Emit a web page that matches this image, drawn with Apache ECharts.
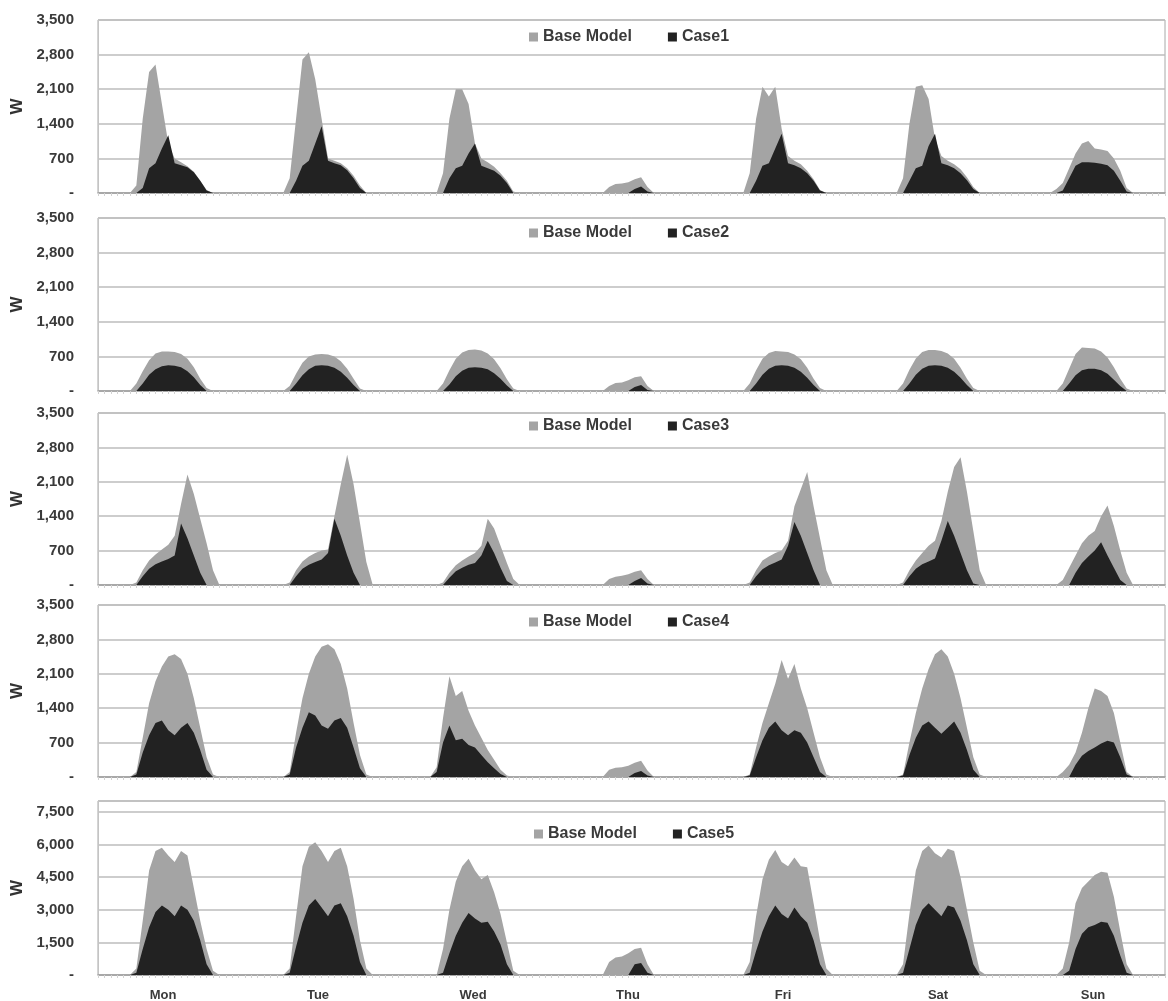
<!DOCTYPE html>
<html>
<head>
<meta charset="utf-8">
<script src="https://cdn.jsdelivr.net/npm/echarts@6/dist/echarts.min.js"></script>
<style>
html,body{margin:0;padding:0;background:#fff;}
#chart{width:1168px;height:1001px;}
</style>
</head>
<body>
<div id="chart"></div>
<script>
// ---------- DATA (hourly W, 24 values per day, Mon..Sun) ----------
const days = ['Mon', 'Tue', 'Wed', 'Thu', 'Fri', 'Sat', 'Sun'];
const seriesNames = ['Base Model', 'Case1', 'Case2', 'Case3', 'Case4', 'Case5'];

const base1 = [
  [0,0,0,0,0,0,150,1500,2450,2600,1800,1000,700,620,540,430,250,60,0,0,0,0,0,0],
  [0,0,0,0,0,0,300,1500,2700,2850,2300,1500,700,650,600,500,350,150,0,0,0,0,0,0],
  [0,0,0,0,0,0,400,1500,2100,2100,1800,1000,700,620,530,400,250,30,0,0,0,0,0,0],
  [0,0,0,0,0,0,0,0,120,180,190,220,280,320,120,0,0,0,0,0,0,0,0,0],
  [0,0,0,0,0,0,400,1500,2150,1950,2150,1300,750,650,580,450,280,60,0,0,0,0,0,0],
  [0,0,0,0,0,0,300,1400,2150,2180,1900,1100,750,650,580,480,320,120,0,0,0,0,0,0],
  [0,0,0,0,0,0,80,200,500,800,1000,1050,900,880,850,700,450,100,0,0,0,0,0,0]
];
const case1 = [
  [0,0,0,0,0,0,0,100,500,600,900,1170,600,560,520,420,250,50,0,0,0,0,0,0],
  [0,0,0,0,0,0,0,250,550,650,1000,1350,650,600,560,460,300,100,0,0,0,0,0,0],
  [0,0,0,0,0,0,0,300,500,550,800,1000,550,500,450,350,200,0,0,0,0,0,0,0],
  [0,0,0,0,0,0,0,0,0,0,0,0,80,130,30,0,0,0,0,0,0,0,0,0],
  [0,0,0,0,0,0,0,250,550,600,900,1200,600,560,500,400,250,50,0,0,0,0,0,0],
  [0,0,0,0,0,0,0,250,500,550,950,1200,600,560,500,400,260,80,0,0,0,0,0,0],
  [0,0,0,0,0,0,0,50,300,550,620,620,610,590,560,450,250,30,0,0,0,0,0,0]
];
const base2 = [
  [0,0,0,0,0,0,150,400,620,760,800,800,790,750,650,480,250,60,0,0,0,0,0,0],
  [0,0,0,0,0,0,100,350,570,700,740,750,740,700,600,450,250,50,0,0,0,0,0,0],
  [0,0,0,0,0,0,150,420,650,780,830,840,820,760,640,460,240,50,0,0,0,0,0,0],
  [0,0,0,0,0,0,0,0,100,160,170,220,280,300,100,0,0,0,0,0,0,0,0,0],
  [0,0,0,0,0,0,150,420,650,770,810,800,790,740,640,470,250,60,0,0,0,0,0,0],
  [0,0,0,0,0,0,150,430,660,790,830,830,810,760,650,470,250,60,0,0,0,0,0,0],
  [0,0,0,0,0,0,0,150,450,750,880,870,860,800,680,480,250,50,0,0,0,0,0,0]
];
const case2 = [
  [0,0,0,0,0,0,0,150,330,440,500,520,510,480,400,280,120,0,0,0,0,0,0,0],
  [0,0,0,0,0,0,0,150,320,440,510,520,510,470,390,270,120,0,0,0,0,0,0,0],
  [0,0,0,0,0,0,0,130,300,410,470,480,470,440,360,250,110,0,0,0,0,0,0,0],
  [0,0,0,0,0,0,0,0,0,0,0,0,80,120,20,0,0,0,0,0,0,0,0,0],
  [0,0,0,0,0,0,0,150,330,450,510,520,510,470,390,270,120,0,0,0,0,0,0,0],
  [0,0,0,0,0,0,0,150,330,450,510,520,510,470,390,270,120,0,0,0,0,0,0,0],
  [0,0,0,0,0,0,0,0,150,320,420,450,450,420,350,230,100,0,0,0,0,0,0,0]
];
const base3 = [
  [0,0,0,0,0,0,50,300,500,620,720,820,1000,1650,2250,1850,1350,850,300,0,0,0,0,0],
  [0,0,0,0,0,0,50,300,480,580,650,700,720,1400,2050,2650,2050,1260,470,0,0,0,0,0],
  [0,0,0,0,0,0,50,250,400,500,580,650,800,1350,1150,800,450,120,0,0,0,0,0,0],
  [0,0,0,0,0,0,0,0,120,170,190,220,270,300,120,0,0,0,0,0,0,0,0,0],
  [0,0,0,0,0,0,50,300,500,580,650,700,900,1600,1950,2300,1600,950,300,0,0,0,0,0],
  [0,0,0,0,0,0,50,300,500,650,800,900,1300,1900,2400,2600,1900,1100,300,0,0,0,0,0],
  [0,0,0,0,0,0,0,100,350,600,850,1000,1100,1400,1620,1200,700,250,0,0,0,0,0,0]
];
const case3 = [
  [0,0,0,0,0,0,0,180,330,420,480,530,600,1250,950,600,250,0,0,0,0,0,0,0],
  [0,0,0,0,0,0,0,180,330,410,470,520,650,1350,1000,600,250,0,0,0,0,0,0,0],
  [0,0,0,0,0,0,0,150,280,350,410,450,600,900,650,350,80,0,0,0,0,0,0,0],
  [0,0,0,0,0,0,0,0,0,0,0,0,80,140,30,0,0,0,0,0,0,0,0,0],
  [0,0,0,0,0,0,0,180,320,400,460,520,800,1280,1000,650,300,0,0,0,0,0,0,0],
  [0,0,0,0,0,0,0,180,330,420,480,540,900,1300,1000,650,300,30,0,0,0,0,0,0],
  [0,0,0,0,0,0,0,0,0,250,450,580,700,870,600,350,100,0,0,0,0,0,0,0]
];
const base4 = [
  [0,0,0,0,0,0,100,800,1500,1950,2250,2450,2500,2400,2100,1600,1000,400,50,0,0,0,0,0],
  [0,0,0,0,0,0,100,900,1600,2100,2450,2650,2700,2600,2300,1800,1100,450,50,0,0,0,0,0],
  [0,0,0,0,0,200,1200,2050,1650,1750,1350,1050,800,550,350,150,30,0,0,0,0,0,0,0],
  [0,0,0,0,0,0,0,0,150,190,200,230,290,330,130,0,0,0,0,0,0,0,0,0],
  [0,0,0,0,0,0,50,600,1100,1500,1900,2380,2000,2300,1800,1400,900,400,50,0,0,0,0,0],
  [0,0,0,0,0,0,50,700,1300,1800,2200,2500,2600,2450,2100,1600,1000,400,50,0,0,0,0,0],
  [0,0,0,0,0,0,0,100,250,500,900,1400,1800,1750,1650,1300,700,100,0,0,0,0,0,0]
];
const case4 = [
  [0,0,0,0,0,0,50,500,850,1100,1150,950,850,1000,1100,900,550,150,0,0,0,0,0,0],
  [0,0,0,0,0,0,50,600,1000,1320,1250,1050,980,1150,1200,1000,600,180,0,0,0,0,0,0],
  [0,0,0,0,0,100,700,1050,750,780,650,600,450,300,180,60,0,0,0,0,0,0,0,0],
  [0,0,0,0,0,0,0,0,0,0,0,0,80,120,30,0,0,0,0,0,0,0,0,0],
  [0,0,0,0,0,0,30,400,750,1000,1130,950,850,950,900,700,400,100,0,0,0,0,0,0],
  [0,0,0,0,0,0,30,450,800,1050,1130,1000,880,1000,1130,900,550,150,0,0,0,0,0,0],
  [0,0,0,0,0,0,0,0,0,250,430,530,600,680,740,700,400,50,0,0,0,0,0,0]
];
const base5 = [
  [0,0,0,0,0,0,300,2500,4800,5700,5850,5500,5200,5700,5500,4000,2500,1200,200,0,0,0,0,0],
  [0,0,0,0,0,0,300,2700,5000,5900,6100,5700,5200,5700,5850,5000,3500,1600,300,0,0,0,0,0],
  [0,0,0,0,0,0,1200,3000,4300,5000,5350,4800,4400,4600,3800,2800,1500,200,0,0,0,0,0,0],
  [0,0,0,0,0,0,0,0,600,800,850,1000,1200,1250,500,0,0,0,0,0,0,0,0,0],
  [0,0,0,0,0,0,600,2700,4400,5300,5750,5200,5000,5400,5000,4950,3300,1600,300,0,0,0,0,0],
  [0,0,0,0,0,0,500,2800,4800,5700,5950,5600,5400,5800,5700,4500,3000,1500,200,0,0,0,0,0],
  [0,0,0,0,0,0,0,300,1500,3300,4000,4300,4600,4750,4700,3600,2000,500,0,0,0,0,0,0]
];
const case5 = [
  [0,0,0,0,0,0,100,1200,2200,2900,3200,3000,2700,3200,3000,2500,1600,500,0,0,0,0,0,0],
  [0,0,0,0,0,0,100,1300,2400,3200,3500,3100,2700,3200,3300,2700,1800,600,0,0,0,0,0,0],
  [0,0,0,0,0,0,100,1000,1800,2400,2850,2600,2400,2450,2000,1400,500,0,0,0,0,0,0,0],
  [0,0,0,0,0,0,0,0,0,0,0,0,500,550,100,0,0,0,0,0,0,0,0,0],
  [0,0,0,0,0,0,100,1100,2000,2700,3200,2800,2600,3100,2700,2400,1600,500,0,0,0,0,0,0],
  [0,0,0,0,0,0,100,1200,2300,3000,3300,3000,2700,3200,3100,2500,1600,500,0,0,0,0,0,0],
  [0,0,0,0,0,0,0,0,200,1200,1900,2200,2300,2450,2400,1800,900,100,0,0,0,0,0,0]
];

const yMax = [3500, 3500, 3500, 3500, 8000];
const yInterval = [700, 700, 700, 700, 1500];

// ---------- LAYOUT / STYLE ----------
const panelTop = [20, 218, 413, 605, 801];
const panelHeight = [173, 173, 172, 172, 174];
const legendTop = [24, 220, 413, 609, 821];
const legendLeft = [524, 524, 524, 524, 529];
const GRAY = '#a4a4a4';
const BLACK = '#222222';
const FONT = 'Liberation Sans';

const bases = [base1, base2, base3, base4, base5];
const cases = [case1, case2, case3, case4, case5];

const hourCats = [];
days.forEach(d => { for (let h = 0; h < 24; h++) hourCats.push(d + ' ' + h); });
const flat = arr => [].concat(...arr);

const fmt = v => v === 0 ? '-' : v.toLocaleString('en-US');

const grids = [], xAxes = [], yAxes = [], legends = [], series = [];
for (let i = 0; i < 5; i++) {
  grids.push({left: 98, right: 3, top: panelTop[i], height: panelHeight[i],
    show: true, borderColor: '#a8a8a8', borderWidth: 1});
  xAxes.push({type: 'category', gridIndex: i, data: hourCats, boundaryGap: false,
    axisLine: {lineStyle: {color: '#a0a0a0', width: 1.5}},
    axisTick: {show: true, interval: 0, length: 3, lineStyle: {color: '#d2d2d2'}},
    axisLabel: {show: false}, splitLine: {show: false}});
  yAxes.push({type: 'value', gridIndex: i, min: 0, max: yMax[i], interval: yInterval[i],
    name: 'W', nameLocation: 'middle', nameGap: 70, nameRotate: 90,
    nameTextStyle: {fontSize: 17, fontWeight: 'bold', color: '#333', fontFamily: FONT},
    axisLine: {show: true, lineStyle: {color: '#c4c4c4'}},
    axisTick: {show: false},
    axisLabel: {formatter: fmt, fontSize: 15, fontWeight: 'bold', color: '#3a3a3a',
      fontFamily: FONT, margin: 24, showMaxLabel: i !== 4},
    splitLine: {lineStyle: {color: '#bdbdbd', width: 1.5}}});
  legends.push({top: legendTop[i], left: legendLeft[i], data: ['Base Model', seriesNames[i + 1]],
    icon: 'rect', itemWidth: 9, itemHeight: 9, itemGap: 36, selectedMode: false,
    textStyle: {fontSize: 16, fontWeight: 'bold', color: '#3a3a3a', fontFamily: FONT}});
  series.push({name: 'Base Model', type: 'line', xAxisIndex: i, yAxisIndex: i,
    data: flat(bases[i]), symbol: 'none', lineStyle: {width: 0},
    itemStyle: {color: GRAY}, areaStyle: {color: GRAY, opacity: 1}});
  series.push({name: seriesNames[i + 1], type: 'line', xAxisIndex: i, yAxisIndex: i,
    data: flat(cases[i]), symbol: 'none', lineStyle: {width: 0},
    itemStyle: {color: BLACK}, areaStyle: {color: BLACK, opacity: 1}});
}
// day labels axis
grids.push({left: 163, right: 75, top: 975, height: 1});
xAxes.push({type: 'category', gridIndex: 5, data: days, boundaryGap: false,
  axisLine: {show: false}, axisTick: {show: false},
  axisLabel: {interval: 0, margin: 14, fontSize: 13, fontWeight: 'bold', color: '#3a3a3a', fontFamily: FONT}});
yAxes.push({type: 'value', gridIndex: 5, show: false});

const chart = echarts.init(document.getElementById('chart'), null, {renderer: 'canvas'});
chart.setOption({
  animation: false,
  backgroundColor: '#fff',
  grid: grids, xAxis: xAxes, yAxis: yAxes, legend: legends, series: series
});
</script>
</body>
</html>
